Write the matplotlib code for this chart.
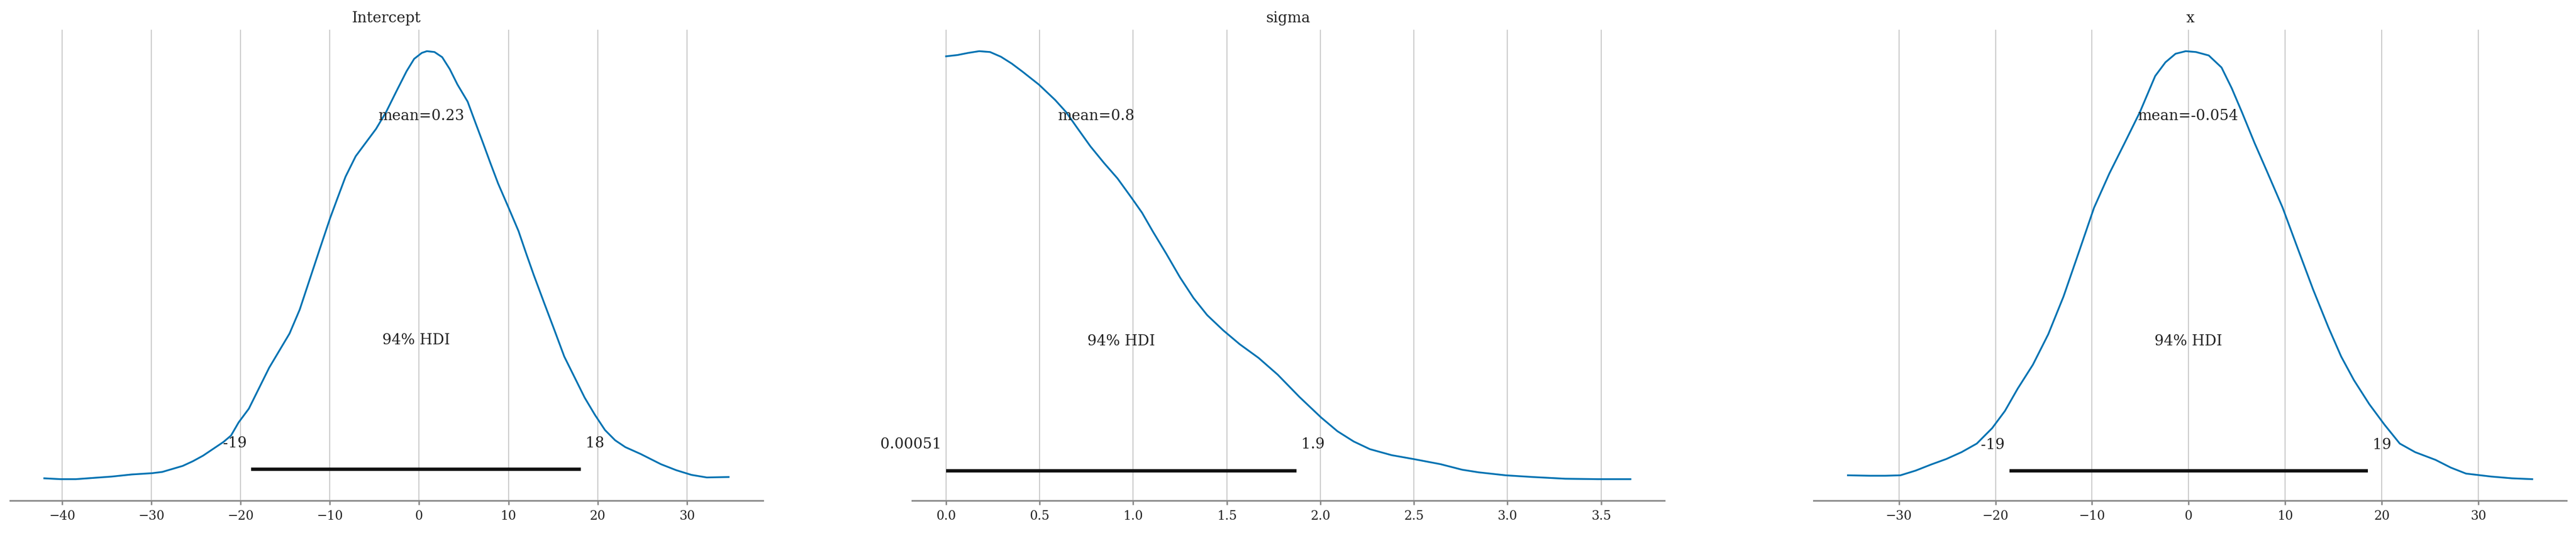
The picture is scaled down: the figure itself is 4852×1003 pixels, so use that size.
# Posterior densities for Intercept, sigma and x (plot_posterior style)

import numpy as np
import matplotlib.pyplot as plt


# Intercept: KDE (relative height)
intercept_x = [-42.0, -40.17, -38.46, -36.47, -34.47, -32.19, -29.91, -28.77, -27.63, -26.49,
               -25.35, -24.21, -23.07, -21.93, -21.08, -20.22, -19.08, -17.94, -16.80, -15.66,
               -14.52, -13.38, -12.24, -11.10, -9.96, -9.11, -8.25, -7.11, -5.97, -4.83,
               -3.69, -2.55, -1.41, -0.56, 0.30, 0.87, 1.72, 2.58, 3.43, 4.29,
               5.43, 6.28, 7.14, 8.00, 8.85, 9.99, 11.13, 11.98, 12.84, 13.98,
               15.12, 16.26, 17.40, 18.54, 19.68, 20.82, 21.96, 23.10, 24.81, 27.09,
               28.80, 30.51, 32.22, 34.67]
intercept_y = [0.000, -0.002, -0.002, 0.001, 0.004, 0.009, 0.012, 0.015, 0.022, 0.029,
               0.040, 0.053, 0.069, 0.085, 0.100, 0.131, 0.163, 0.211, 0.259, 0.299,
               0.339, 0.395, 0.467, 0.539, 0.610, 0.658, 0.706, 0.754, 0.786, 0.818,
               0.858, 0.906, 0.953, 0.982, 0.996, 1.000, 0.998, 0.986, 0.958, 0.922,
               0.882, 0.834, 0.786, 0.737, 0.690, 0.635, 0.579, 0.527, 0.476, 0.412,
               0.349, 0.285, 0.237, 0.189, 0.149, 0.113, 0.089, 0.073, 0.057, 0.033,
               0.019, 0.008, 0.002, 0.003]

# sigma: KDE (relative height)
sigma_x = [0.0, 0.061, 0.119, 0.177, 0.235, 0.293, 0.351, 0.409, 0.496, 0.583,
           0.641, 0.699, 0.771, 0.844, 0.916, 0.989, 1.047, 1.105, 1.177, 1.250,
           1.322, 1.395, 1.482, 1.569, 1.670, 1.772, 1.888, 2.004, 2.091, 2.178,
           2.265, 2.381, 2.497, 2.642, 2.758, 2.845, 2.990, 3.135, 3.309, 3.483,
           3.657]
sigma_y = [0.988, 0.991, 0.996, 1.000, 0.998, 0.987, 0.971, 0.952, 0.922, 0.886,
           0.858, 0.822, 0.778, 0.739, 0.703, 0.659, 0.623, 0.579, 0.527, 0.472,
           0.424, 0.384, 0.348, 0.316, 0.284, 0.245, 0.193, 0.145, 0.113, 0.089,
           0.071, 0.057, 0.048, 0.036, 0.023, 0.017, 0.010, 0.006, 0.002, 0.001,
           0.001]

# x: KDE (relative height)
x_x = [-35.28, -33.01, -31.42, -29.84, -28.26, -26.68, -25.09, -23.51, -21.93, -20.34,
       -19.02, -17.70, -16.12, -14.53, -12.95, -11.37, -9.79, -8.20, -6.62, -5.04,
       -3.46, -2.40, -1.35, -0.29, 0.77, 2.09, 3.41, 4.46, 5.52, 6.83,
       8.15, 9.74, 11.32, 12.90, 14.48, 15.80, 17.12, 18.71, 20.29, 21.87,
       23.46, 25.57, 27.15, 28.73, 31.37, 33.48, 35.59]
x_y = [0.011, 0.010, 0.010, 0.011, 0.022, 0.036, 0.049, 0.065, 0.085, 0.121,
       0.161, 0.213, 0.269, 0.340, 0.428, 0.531, 0.635, 0.715, 0.786, 0.858,
       0.942, 0.974, 0.994, 1.000, 0.998, 0.990, 0.962, 0.914, 0.858, 0.786,
       0.718, 0.635, 0.539, 0.444, 0.356, 0.288, 0.233, 0.177, 0.129, 0.085,
       0.065, 0.047, 0.029, 0.015, 0.008, 0.004, 0.002]

names = ["Intercept", "sigma", "x"]
curves_x = [intercept_x, sigma_x, x_x]
curves_y = [intercept_y, sigma_y, x_y]
means = [0.23, 0.8, -0.054]
hdi_low = [-18.8, 0.00051, -18.55]
hdi_high = [18.1, 1.873, 18.55]
hdi_prob = 0.94


# Style .......................................................................

plt.rcParams["font.family"] = ["DejaVu Serif"]
plt.rcParams["text.color"] = "#222222"
blue = "#0072B2"
grey = "#8a8a8a"
text_size = 20
tick_size = 17


# Plot ........................................................................

fig, axes = plt.subplots(1, 3, figsize=(48.52, 10.04), dpi=100)
fig.subplots_adjust(left=0.0039, right=0.9963, bottom=0.0608, top=0.9432, wspace=0.198)

for ax, name, xs, ys, m, lo, hi in zip(axes, names, curves_x, curves_y, means, hdi_low, hdi_high):
    ax.plot(xs, ys, color=blue, lw=2.4)
    plot_height = ax.get_ylim()[1]

    # HDI bar and labels
    ax.plot([lo, hi], [plot_height * 0.02, plot_height * 0.02], lw=4.6, color="#111111",
            solid_capstyle="butt")
    ax.text(lo, plot_height * 0.07, f"{lo:.2g} ", size=text_size, ha="right")
    ax.text(hi, plot_height * 0.07, f" {hi:.2g}", size=text_size, ha="left")
    ax.text((lo + hi) / 2, plot_height * 0.3, f"{hdi_prob:.0%} HDI", size=text_size, ha="center")

    # Point estimate
    ax.text(m, plot_height * 0.8, f"mean={m:.2g}", size=text_size, ha="center")

    ax.set_title(name, fontsize=text_size, pad=11)
    ax.set_yticks([])
    for side in ["left", "right", "top"]:
        ax.spines[side].set_visible(False)
    ax.spines["bottom"].set_color(grey)
    ax.spines["bottom"].set_linewidth(2.2)
    ax.grid(axis="x", color="#cccccc", lw=1.5)
    ax.set_axisbelow(True)
    ax.tick_params(axis="x", labelsize=tick_size, colors=grey, labelcolor="#222222",
                   length=6, width=2, pad=6)

plt.savefig("out.png", dpi=100)
